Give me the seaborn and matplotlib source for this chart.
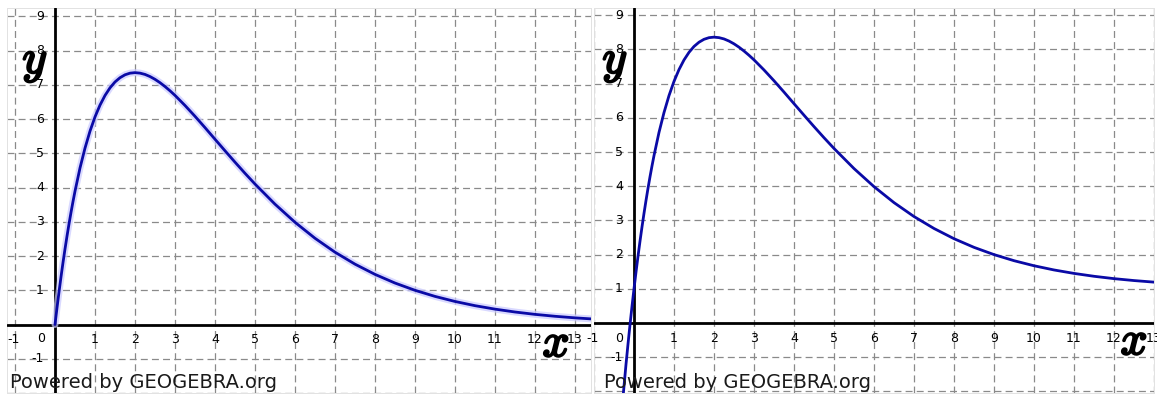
import matplotlib
matplotlib.use("Agg")
import matplotlib.pyplot as plt
import matplotlib.patheffects as pe
import seaborn as sns
import pandas as pd

# ---- data ----
x_left = [0, 0.05, 0.1, 0.15, 0.2, 0.25, 0.3, 0.35, 0.4, 0.45, 0.5, 0.625, 0.75, 0.875, 1.0,
          1.125, 1.25, 1.375, 1.5, 1.625, 1.75, 1.875, 2.0, 2.125, 2.25, 2.375, 2.5, 2.625,
          2.75, 2.875, 3.0, 3.25, 3.5, 3.75, 4.0, 4.25, 4.5, 4.75, 5.0, 5.5, 6, 6.5, 7, 7.5,
          8, 8.5, 9, 9.5, 10, 10.5, 11, 11.5, 12, 12.5, 13, 13.4]
y_left = [0, 0.488, 0.951, 1.392, 1.810, 2.206, 2.582, 2.938, 3.275, 3.593, 3.894, 4.573, 5.153,
          5.649, 6.065, 6.410, 6.691, 6.914, 7.086, 7.210, 7.295, 7.343, 7.358, 7.344, 7.306,
          7.244, 7.163, 7.065, 6.952, 6.828, 6.694, 6.399, 6.083, 5.752, 5.413, 5.076, 4.743,
          4.418, 4.104, 3.516, 2.987, 2.520, 2.113, 1.764, 1.465, 1.212, 1.000, 0.822, 0.674,
          0.551, 0.450, 0.366, 0.297, 0.241, 0.195, 0.165]

x_right = [-0.3, -0.2, -0.15, -0.1, -0.05, 0, 0.05, 0.1, 0.15, 0.2, 0.25, 0.3, 0.35, 0.4, 0.45,
           0.5, 0.625, 0.75, 0.875, 1.0, 1.125, 1.25, 1.375, 1.5, 1.625, 1.75, 1.875, 2.0,
           2.125, 2.25, 2.375, 2.5, 2.625, 2.75, 2.875, 3.0, 3.25, 3.5, 3.75, 4.0, 4.25, 4.5,
           4.75, 5.0, 5.5, 6, 6.5, 7, 7.5, 8, 8.5, 9, 9.5, 10, 10.5, 11, 11.5, 12, 12.5, 13,
           13.1]
y_right = [-2.49, -1.21, -0.617, -0.051, 0.487, 1.0, 1.488, 1.951, 2.392, 2.810, 3.206, 3.582,
           3.938, 4.275, 4.593, 4.894, 5.573, 6.153, 6.649, 7.065, 7.410, 7.691, 7.914, 8.086,
           8.210, 8.295, 8.343, 8.358, 8.344, 8.306, 8.244, 8.163, 8.065, 7.952, 7.828, 7.694,
           7.399, 7.083, 6.752, 6.413, 6.076, 5.743, 5.418, 5.104, 4.516, 3.987, 3.520, 3.113,
           2.764, 2.465, 2.212, 2.000, 1.822, 1.674, 1.551, 1.450, 1.366, 1.297, 1.241, 1.195,
           1.19]

x_tick_labels = [str(i) for i in range(1, 14)]
y_tick_labels = [str(i) for i in range(1, 10)]
footer = "Powered by GEOGEBRA.org"

sns.set_style("white")
plt.rcParams["font.family"] = ["DejaVu Sans"]
plt.rcParams["lines.scale_dashes"] = False

W, H = 1157, 396
fig = plt.figure(figsize=(W / 100, H / 100), dpi=100)
fig.patch.set_facecolor("white")


def px_axes(l, r, t, b):
    return fig.add_axes([l / W, 1 - b / H, (r - l) / W, (b - t) / H])


CURVE = "#0a0aa6"
GRID = "#8a8a8a"


def panel(ax, xlim, ylim, xs, ys, halo, origin_off):
    ax.set_xlim(*xlim)
    ax.set_ylim(*ylim)
    ax.set_xticks(range(-1, 14))
    ax.set_yticks(range(-2, 10))
    ax.tick_params(length=0, labelbottom=False, labelleft=False)
    ax.grid(True, color=GRID, linewidth=0.9, linestyle=(0, (5, 3)))
    ax.set_axisbelow(True)
    for s in ax.spines.values():
        s.set_color("#e2e2e2")
        s.set_linewidth(0.7)
    ax.axhline(0, color="black", lw=2.0, zorder=3)
    ax.axvline(0, color="black", lw=2.0, zorder=3)
    df = pd.DataFrame({"x": xs, "y": ys})
    if halo:
        sns.lineplot(data=df, x="x", y="y", ax=ax, color="#c9c9ff", lw=5, alpha=0.7,
                     sort=False, estimator=None, zorder=4)
    sns.lineplot(data=df, x="x", y="y", ax=ax, color=CURVE, lw=2.0,
                 sort=False, estimator=None, zorder=5)
    ax.set_xlabel("")
    ax.set_ylabel("")
    kw = dict(textcoords="offset pixels", fontsize=9, color="black",
              annotation_clip=False, zorder=6)
    for i, lab in zip(range(1, 14), x_tick_labels):
        ax.annotate(lab, (i, 0), xytext=(0, -15), ha="center", va="center", **kw)
    ax.annotate("-1", (-1, 0), xytext=(-1, -15), ha="center", va="center", **kw)
    for i, lab in zip(range(1, 10), y_tick_labels):
        ax.annotate(lab, (0, i), xytext=(-11, 0), ha="right", va="center", **kw)
    ax.annotate("-1", (0, -1), xytext=(-11, 0), ha="right", va="center", **kw)
    ax.annotate("0", (0, 0), xytext=origin_off, ha="center", va="center", **kw)


# left panel: x=0 at px 55, 40 px/unit; y=0 at px 327, 34.5 px/unit
axL = px_axes(7, 591, 8, 393)
panel(axL, ((7 - 55) / 40, (591 - 55) / 40), ((327 - 393) / 34.5, (327 - 8) / 34.5),
      x_left, y_left, True, (-14, -14))

# right panel: x=0 at px 634, 40 px/unit; y=0 at px 323, 34.2 px/unit
axR = px_axes(594, 1154, 8, 393)
panel(axR, ((594 - 634) / 40, (1154 - 634) / 40), ((323 - 393) / 34.2, (323 - 8) / 34.2),
      x_right, y_right, False, (-15, -16))

# axis names (curly math italic, emboldened)
letter = dict(fontsize=34, color="black", math_fontfamily="cm", ha="center", va="center",
              path_effects=[pe.withStroke(linewidth=1.6, foreground="black")])
fig.text(35 / W, 1 - 62 / H, r"$y$", **letter)
fig.text(556 / W, 1 - 344 / H, r"$x$", **letter)
fig.text(615 / W, 1 - 62 / H, r"$y$", **letter)
fig.text(1134 / W, 1 - 342 / H, r"$x$", **letter)

# footers
fig.text(10 / W, 1 - 383 / H, footer, fontsize=14, color="#1a1a1a", ha="left", va="center")
fig.text(604 / W, 1 - 383 / H, footer, fontsize=14, color="#1a1a1a", ha="left", va="center")

fig.savefig("out.png", dpi=100, facecolor="white")
